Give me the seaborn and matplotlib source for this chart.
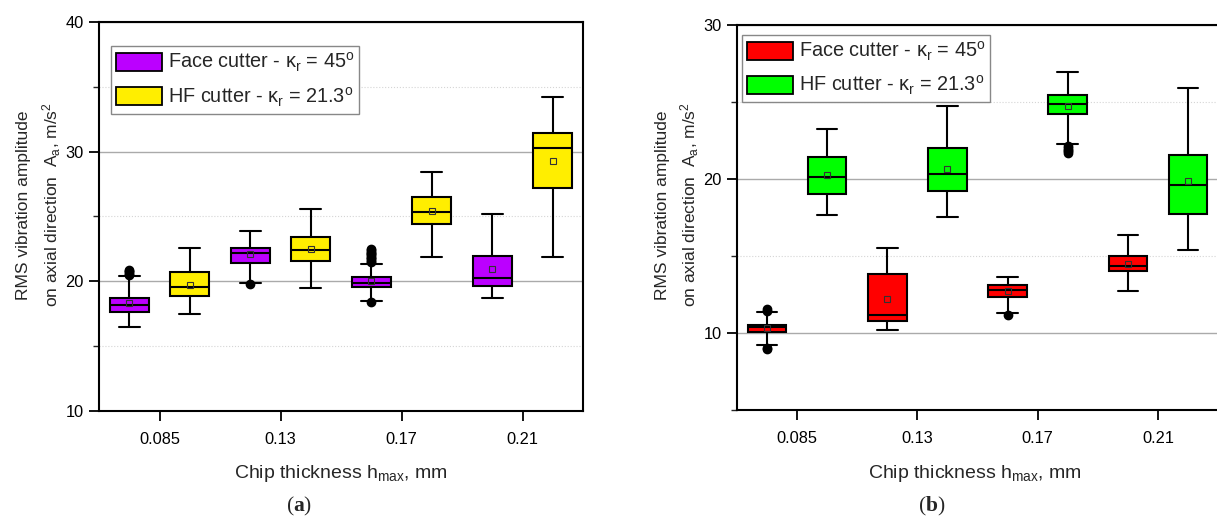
import numpy as np
import matplotlib
matplotlib.use("Agg")
import matplotlib.pyplot as plt
from matplotlib.patches import Patch
from matplotlib.ticker import MultipleLocator
import seaborn as sns

# ---------------- data ----------------
categories = ["0.085", "0.13", "0.17", "0.21"]
series_labels = [r"Face cutter - κ$_\mathregular{r}$ = 45$^\mathregular{o}$",
                 r"HF cutter - κ$_\mathregular{r}$ = 21.3$^\mathregular{o}$"]

# panel (a)
a_face_whislo = [16.5, 19.9, 18.5, 18.75]
a_face_q1 = [17.6, 21.45, 19.55, 19.65]
a_face_med = [18.15, 22.15, 19.85, 20.25]
a_face_q3 = [18.75, 22.55, 20.3, 21.95]
a_face_whishi = [20.4, 23.9, 21.35, 25.2]
a_face_mean = [18.3, 22.1, 20.05, 20.95]
a_face_fliers = [[20.5, 20.6, 20.7, 20.8, 20.9], [19.82],
                 [21.5, 21.6, 21.7, 21.8, 21.9, 22.0, 22.1, 22.2, 22.3, 22.4, 22.5, 18.38], []]

a_hf_whislo = [17.5, 19.45, 21.9, 21.85]
a_hf_q1 = [18.85, 21.6, 24.45, 27.2]
a_hf_med = [19.6, 22.4, 25.35, 30.25]
a_hf_q3 = [20.75, 23.4, 26.5, 31.45]
a_hf_whishi = [22.55, 25.6, 28.45, 34.2]
a_hf_mean = [19.75, 22.5, 25.4, 29.25]
a_hf_fliers = [[], [], [], []]

# panel (b)
b_face_whislo = [9.2, 10.2, 11.3, 12.75]
b_face_q1 = [10.05, 10.8, 12.35, 14.0]
b_face_med = [10.4, 11.2, 12.8, 14.35]
b_face_q3 = [10.55, 13.8, 13.1, 15.0]
b_face_whishi = [11.35, 15.5, 13.65, 16.35]
b_face_mean = [10.3, 12.2, 12.7, 14.5]
b_face_fliers = [[11.45, 11.55, 9.05, 8.95], [], [11.18], []]

b_hf_whislo = [17.65, 17.55, 22.3, 15.4]
b_hf_q1 = [19.05, 19.25, 24.2, 17.7]
b_hf_med = [20.15, 20.3, 24.9, 19.6]
b_hf_q3 = [21.45, 22.0, 25.45, 21.55]
b_hf_whishi = [23.25, 24.75, 26.95, 25.9]
b_hf_mean = [20.25, 20.65, 24.75, 19.9]
b_hf_fliers = [[], [], [22.15, 22.0, 21.9, 21.8, 21.7], []]

a_colors = ["#BB00FF", "#FFEE00"]
b_colors = ["#FF0000", "#00FF00"]

# ---------------- style ----------------
sns.set_style("ticks")
plt.rcParams["font.family"] = ["Liberation Sans", "DejaVu Sans"]
plt.rcParams["mathtext.fontset"] = "custom"
plt.rcParams["mathtext.rm"] = "Liberation Sans"
plt.rcParams["mathtext.it"] = "Liberation Sans:italic"
plt.rcParams["mathtext.bf"] = "Liberation Serif:bold"

W, H = 1217, 518
fig = plt.figure(figsize=(W / 100, H / 100), dpi=100)
ax1 = fig.add_axes([99 / W, 1 - 411 / H, 484 / W, 389 / H])
ax2 = fig.add_axes([737 / W, 1 - 410 / H, 481 / W, 385 / H])


def make_stats(whislo, q1, med, q3, whishi, mean, fliers):
    return [dict(whislo=whislo[i], q1=q1[i], med=med[i], q3=q3[i], whishi=whishi[i],
                 mean=mean[i], fliers=fliers[i]) for i in range(len(categories))]


def draw_group(ax, stats, color, offset):
    pos = np.arange(len(categories)) + offset
    ax.bxp(stats, positions=pos, widths=0.32, capwidths=0.17, showmeans=True,
           patch_artist=True, manage_ticks=False,
           boxprops=dict(facecolor=color, edgecolor="black", linewidth=1.5),
           medianprops=dict(color="black", linewidth=1.5),
           whiskerprops=dict(color="black", linewidth=1.5),
           capprops=dict(color="black", linewidth=1.5),
           meanprops=dict(marker="s", markerfacecolor="none", markeredgecolor="#333333",
                          markersize=4.8, markeredgewidth=0.8),
           flierprops=dict(marker="o", markerfacecolor="black", markeredgecolor="black",
                           markersize=6))


panels = [
    (ax1, a_colors,
     make_stats(a_face_whislo, a_face_q1, a_face_med, a_face_q3, a_face_whishi, a_face_mean, a_face_fliers),
     make_stats(a_hf_whislo, a_hf_q1, a_hf_med, a_hf_q3, a_hf_whishi, a_hf_mean, a_hf_fliers),
     (10, 40), (0.0248, 0.938)),
    (ax2, b_colors,
     make_stats(b_face_whislo, b_face_q1, b_face_med, b_face_q3, b_face_whishi, b_face_mean, b_face_fliers),
     make_stats(b_hf_whislo, b_hf_q1, b_hf_med, b_hf_q3, b_hf_whishi, b_hf_mean, b_hf_fliers),
     (5, 30), (0.0104, 0.974)),
]

for ax, cols, s_face, s_hf, ylim, leg_anchor in panels:
    ax.set_axisbelow(True)
    draw_group(ax, s_face, cols[0], -0.25)
    draw_group(ax, s_hf, cols[1], 0.25)
    ax.set_xlim(-0.5, 3.5)
    ax.set_ylim(*ylim)
    ax.set_xticks(np.arange(len(categories)))
    ax.set_xticklabels(categories)
    ax.yaxis.set_major_locator(MultipleLocator(10))
    ax.yaxis.set_minor_locator(MultipleLocator(5))
    ax.grid(axis="y", which="major", color="#aaaaaa", linewidth=1.0, linestyle="-")
    ax.grid(axis="y", which="minor", color="#d5d5d5", linewidth=0.8, linestyle=":")
    ax.grid(axis="x", visible=False)
    for sp in ax.spines.values():
        sp.set_visible(True)
        sp.set_linewidth(1.5)
        sp.set_color("black")
    ax.tick_params(axis="both", which="major", direction="out", length=7, width=1.3,
                   labelsize=11.8, colors="black")
    ax.tick_params(axis="y", which="major", pad=4)
    ax.tick_params(axis="x", which="major", pad=8)
    ax.tick_params(axis="y", which="minor", direction="out", length=4, width=1.0)
    ax.tick_params(axis="x", which="minor", bottom=False)
    handles = [Patch(facecolor=cols[0], edgecolor="black", linewidth=1.3, label=series_labels[0]),
               Patch(facecolor=cols[1], edgecolor="black", linewidth=1.3, label=series_labels[1])]
    leg = ax.legend(handles=handles, loc="upper left", bbox_to_anchor=leg_anchor,
                    borderaxespad=0, fontsize=14.3, frameon=True, fancybox=False,
                    framealpha=1, edgecolor="#888888", handlelength=2.3, handleheight=1.05,
                    handletextpad=0.3, labelspacing=0.55, borderpad=0.25)
    leg.get_frame().set_linewidth(1.0)

# the right panel is cut off at the figure's right edge in the reference
ax2.spines["right"].set_visible(False)

# axis labels as text
for x_ax_center, x1, x2, tag, tag_x in [(341, 24, 52, "a", 299), (975, 662, 690, "b", 932)]:
    fig.text(x_ax_center / W, 1 - 478 / H, r"Chip thickness h$_\mathregular{max}$, mm",
             ha="center", va="baseline", fontsize=14)
    fig.text(x1 / W, 1 - 205 / H, "RMS vibration amplitude", rotation=90,
             ha="center", va="center", fontsize=12.5)
    fig.text(x2 / W, 1 - 205 / H, r"on axial direction  A$_\mathregular{a}$, m/s$^\mathregular{2}$",
             rotation=90, ha="center", va="center", fontsize=12.5)
    fig.text(tag_x / W, 1 - 506 / H, "(" + r"$\mathbf{" + tag + "}$" + ")", ha="center",
             va="center", fontsize=15.5, family="Liberation Serif")

fig.savefig("out.png", dpi=100)
